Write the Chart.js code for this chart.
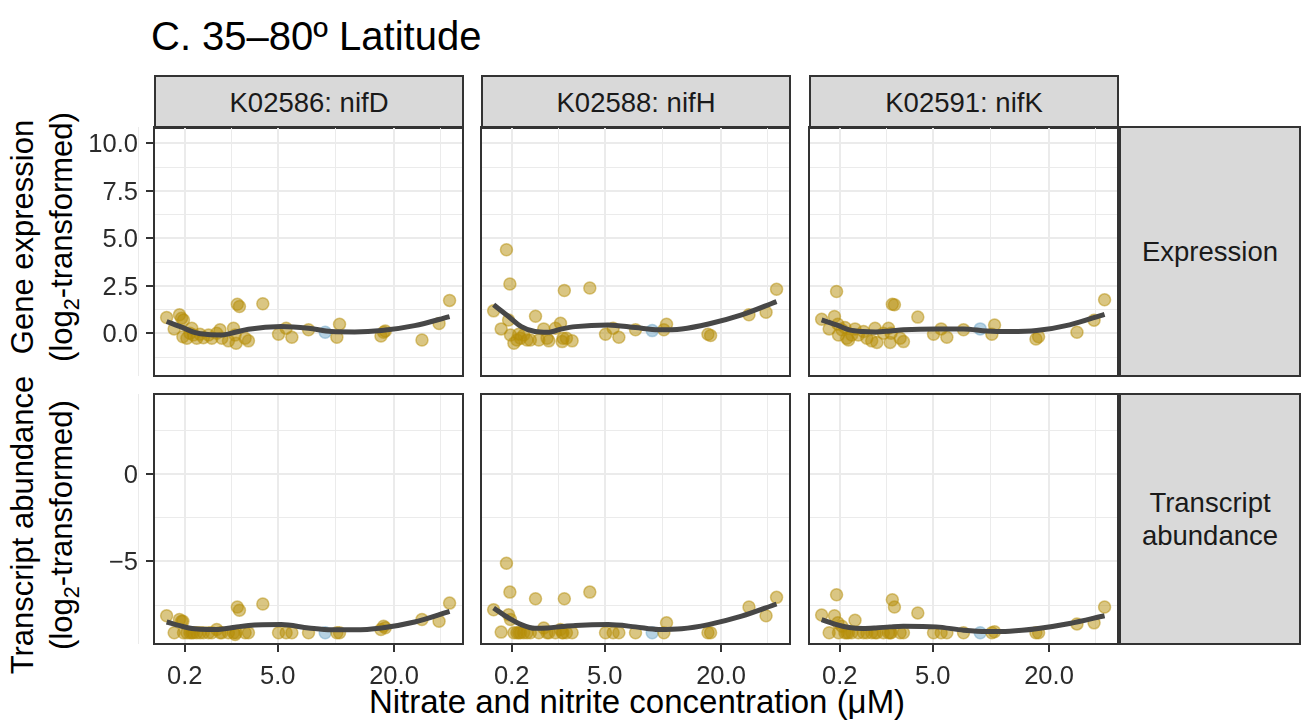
<!DOCTYPE html>
<html lang="en">
<head>
  <meta charset="UTF-8">
  <title>nif genes vs nitrate, 35–80º latitude</title>
  <script src="https://cdn.jsdelivr.net/npm/chart.js"></script>
  <style>
    body { margin: 0; background: #fff; font-family: "Liberation Sans", Arial, Helvetica, sans-serif; }
    #fig { position: relative; width: 1302px; height: 720px; overflow: hidden; }
    #fig canvas { position: absolute; }
    .strip {
      position: absolute; box-sizing: border-box;
      background: #d9d9d9; border: 2px solid #333;
      display: flex; align-items: center; justify-content: center; text-align: center;
      font-size: 27.5px; line-height: 1.2; color: #1a1a1a;
    }
    .ytitle {
      position: absolute; width: 340px; height: 78px; line-height: 39px;
      font-size: 31px; text-align: center; white-space: nowrap; color: #000;
      transform: rotate(-90deg);
    }
    .ytitle sub { font-size: 0.7em; line-height: 0; vertical-align: -0.3em; }
  </style>
</head>
<body>
  <div id="fig">
    <div style="position:absolute; left:151px; top:16px; font-size:40px; line-height:40px; color:#000;">C. 35–80º Latitude</div>

    <div class="strip" style="left:154px; top:75px; width:310px; height:54px;">K02586: nifD</div>
    <div class="strip" style="left:481px; top:75px; width:310px; height:54px;">K02588: nifH</div>
    <div class="strip" style="left:809px; top:75px; width:310px; height:54px;">K02591: nifK</div>

    <div class="strip" style="left:1119px; top:126px; width:182px; height:251px;">Expression</div>
    <div class="strip" style="left:1119px; top:393px; width:182px; height:252px;">Transcript<br>abundance</div>

    <div class="ytitle" style="left:-128px; top:198px;">Gene expression<br>(log<sub>2</sub>-transformed)</div>
    <div class="ytitle" style="left:-128px; top:486px;">Transcript abundance<br>(log<sub>2</sub>-transformed)</div>

    <div style="position:absolute; left:317px; width:640px; top:685px; text-align:center; font-size:33px; line-height:33px; color:#000;">Nitrate and nitrite concentration (μM)</div>
  </div>

  <script>
    // nitrate + nitrite (uM) of each sample, shared by all panels
    const nitrate = [0.01, 0.06, 0.12, 0.15, 0.17, 0.18, 0.24, 0.30, 0.34, 0.38,
                     0.46, 0.55, 0.65, 0.82, 0.94, 1.13, 1.27, 1.35, 1.66, 1.92,
                     2.01, 2.06, 2.13, 2.25, 2.59, 2.80, 3.80, 5.07, 5.75, 6.29,
                     8.00, 9.92, 11.38, 11.73, 17.82, 18.25, 18.53, 25.1, 28.5, 30.7];
    const blueSamples = [31];

    const exprNifD = [0.83, 0.23, 0.97, 0.79, -0.18, 0.70, -0.26, 0.00, 0.26, -0.09,
                      -0.26, -0.05, -0.23, -0.09, -0.26, 0.00, 0.18, -0.26, -0.40, 0.26,
                      -0.09, -0.53, 1.53, 1.41, -0.26, -0.40, 1.55, -0.05, 0.26, -0.21,
                      0.18, 0.05, -0.21, 0.48, -0.14, 0.05, 0.12, -0.35, 0.51, 1.73];
    const exprNifH = [1.18, 0.23, 4.40, 0.70, 2.59, -0.09, -0.53, -0.35, -0.05, -0.26,
                      -0.09, -0.35, -0.35, 0.90, -0.35, 0.23, -0.26, -0.40, 0.26, 0.53,
                      -0.44, -0.26, 2.25, -0.26, -0.40, null, 2.38, -0.05, 0.26, -0.21,
                      0.18, 0.14, 0.18, 0.48, -0.05, -0.12, null, 0.97, 1.11, 2.32];
    const exprNifK = [0.74, 0.23, 0.88, 2.20, 0.48, -0.09, 0.18, 0.30, -0.26, -0.35,
                      -0.09, 0.23, -0.09, 0.09, -0.26, -0.40, 0.26, -0.48, 0.00, 0.26,
                      -0.48, 0.00, 1.53, 1.50, -0.26, -0.44, 0.85, -0.05, 0.23, -0.21,
                      0.18, 0.23, -0.05, 0.44, -0.30, -0.18, null, 0.05, 0.69, 1.76];

    const abundNifD = [-8.11, -9.09, -8.33, -8.43, -8.43, -9.09, -9.09, -9.09, -9.09, -9.09,
                       -9.09, -9.09, -9.09, -9.09, -9.09, -8.90, -9.09, -9.09, -9.09, -9.09,
                       -9.19, -9.09, -7.61, -7.80, -9.09, -9.09, -7.44, -9.09, -9.09, -9.09,
                       -9.09, -9.09, -9.09, -9.09, -8.90, -8.71, -8.80, -8.33, -8.43, -7.39];
    const abundNifH = [-7.77, -9.05, -5.11, -8.05, -6.76, -8.33, -9.09, -9.09, -9.09, -9.09,
                       -9.09, -9.09, -9.09, -7.14, -9.09, -8.81, -9.09, -9.09, -9.09, -8.90,
                       -9.09, -9.09, -7.14, -9.09, -9.09, null, -6.76, -9.09, -9.09, -9.09,
                       -9.09, -9.09, -9.09, -8.52, -9.09, -9.09, null, -7.61, -8.11, -7.06];
    const abundNifK = [-8.07, -9.09, -8.11, -6.91, -8.52, -9.09, -8.71, -9.09, -9.09, -9.09,
                       -9.09, -8.37, -9.09, -9.09, -9.09, -9.09, -9.09, -9.09, -9.09, -9.09,
                       -9.09, -9.09, -7.20, -7.61, -9.09, -9.09, -7.95, -9.09, -9.09, -9.09,
                       -9.09, -9.09, -9.09, -9.03, -9.09, -9.09, null, -8.58, -8.52, -7.61];

    // smoothed fit at these concentrations
    const fitNitrate   = [0.01, 0.15, 0.4, 0.8, 1.3, 2.0, 2.8, 5.3, 8.0, 10.7, 13.8, 17.9, 23.7, 30.7];
    const fitExprNifD  = [0.62, 0.32, 0.05, -0.07, -0.09, 0.05, 0.21, 0.35, 0.26, 0.09, 0.07, 0.14, 0.40, 0.88];
    const fitExprNifH  = [1.50, 0.88, 0.35, 0.09, 0.05, 0.23, 0.35, 0.44, 0.30, 0.18, 0.23, 0.49, 0.97, 1.67];
    const fitExprNifK  = [0.70, 0.44, 0.18, 0.09, 0.07, 0.12, 0.18, 0.23, 0.23, 0.12, 0.09, 0.14, 0.44, 1.00];
    const fitAbundNifD = [-8.47, -8.71, -8.86, -8.90, -8.88, -8.77, -8.67, -8.62, -8.81, -8.92, -8.92, -8.81, -8.47, -7.86];
    const fitAbundNifH = [-7.67, -8.24, -8.62, -8.83, -8.81, -8.73, -8.67, -8.62, -8.75, -8.90, -8.86, -8.62, -8.14, -7.44];
    const fitAbundNifK = [-8.33, -8.62, -8.79, -8.84, -8.81, -8.75, -8.71, -8.75, -8.94, -9.02, -9.00, -8.86, -8.56, -8.11];

    // axis breaks and limits
    const xBreaks = [0.2, 5.0, 20.0];
    const yBreaksExpr = [0, 2.5, 5, 7.5, 10];
    const yBreaksAbund = [-5, 0];
    const xLimits = [-0.143, 5.799];          // sqrt scale
    const yLimitsExpr = [-2.25, 10.86];
    const yLimitsAbund = [-9.73, 4.58];

    const panels = [
      [exprNifD, fitExprNifD, 0, 0], [exprNifH, fitExprNifH, 0, 1], [exprNifK, fitExprNifK, 0, 2],
      [abundNifD, fitAbundNifD, 1, 0], [abundNifH, fitAbundNifH, 1, 1], [abundNifK, fitAbundNifK, 1, 2]
    ];

    const PANEL_X = [154, 481, 809], PANEL_W = 309;
    const PANEL_Y = [127, 394], PANEL_H = [249, 250];
    const AX_L = 74, AX_B = 76, M = 3;

    const GOLD = 'rgba(182,142,8,0.5)';
    const BLUE = 'rgba(110,165,200,0.5)';

    Chart.defaults.font.family = "'Liberation Sans', Arial, Helvetica, sans-serif";
    Chart.defaults.animation = false;

    // ggplot style: minor lines halfway between breaks (in transformed space)
    function withMinor(major, fmt) {
      const ticks = major.map(v => ({ value: v, text: fmt(v) }));
      for (let i = 0; i < major.length - 1; i++) {
        ticks.push({ value: (major[i] + major[i + 1]) / 2, minor: true });
      }
      const step = major[1] - major[0];
      ticks.push({ value: major[0] - step / 2, minor: true });
      ticks.push({ value: major[major.length - 1] + step / 2, minor: true });
      return ticks.sort((a, b) => a.value - b.value);
    }

    const panelBox = {
      id: 'panelBox',
      afterDraw(chart) {
        const a = chart.chartArea, ctx = chart.ctx;
        ctx.save();
        ctx.strokeStyle = '#333';
        ctx.lineWidth = 2;
        ctx.strokeRect(a.left, a.top, a.right - a.left, a.bottom - a.top);
        ctx.restore();
      }
    };

    const gridOpts = show => ({
      color: '#ebebeb',
      lineWidth: ctx => (ctx.tick && ctx.tick.minor) ? 1 : 2,
      drawTicks: show,
      tickLength: 8,
      tickWidth: 2,
      tickColor: ctx => (ctx.tick && ctx.tick.minor) ? 'rgba(0,0,0,0)' : '#333'
    });

    const fig = document.getElementById('fig');

    panels.forEach(([ys, fitYs, r, c]) => {
      const padL = c === 0 ? AX_L : M;
      const padB = r === 1 ? AX_B : M;
      const cv = document.createElement('canvas');
      cv.width = PANEL_W + padL + M;
      cv.height = PANEL_H[r] + M + padB;
      cv.style.left = (PANEL_X[c] - padL) + 'px';
      cv.style.top = (PANEL_Y[r] - M) + 'px';
      fig.appendChild(cv);

      const pts = [], colors = [];
      nitrate.forEach((n, i) => {
        if (ys[i] === null) return;
        pts.push({ x: Math.sqrt(n), y: ys[i] });
        colors.push(blueSamples.includes(i) ? BLUE : GOLD);
      });
      const fit = fitNitrate.map((n, i) => ({ x: Math.sqrt(n), y: fitYs[i] }));

      const yMajor = r === 0 ? yBreaksExpr : yBreaksAbund;
      const yFmt = r === 0 ? (v => v.toFixed(1)) : (v => v < 0 ? '\u2212' + Math.abs(v) : String(v));
      const yLim = r === 0 ? yLimitsExpr : yLimitsAbund;

      new Chart(cv, {
        type: 'scatter',
        data: {
          datasets: [
            {
              data: fit, showLine: true, pointRadius: 0, borderColor: '#474747',
              borderWidth: 5, cubicInterpolationMode: 'monotone', fill: false, order: 0
            },
            {
              data: pts, pointRadius: 6, borderWidth: 1.5,
              backgroundColor: colors, borderColor: colors, order: 1
            }
          ]
        },
        options: {
          responsive: false,
          events: [],
          layout: {
            autoPadding: false,
            padding: { left: c === 0 ? 0 : M, right: M, top: M, bottom: r === 1 ? 0 : M }
          },
          plugins: { legend: { display: false }, tooltip: { enabled: false } },
          scales: {
            x: {
              type: 'linear', min: xLimits[0], max: xLimits[1],
              afterBuildTicks: s => { s.ticks = withMinor(xBreaks.map(Math.sqrt), v => (v * v).toFixed(1)); },
              afterFit: s => { s.height = r === 1 ? AX_B : 0; s.paddingLeft = 0; s.paddingRight = 0; },
              border: { display: false },
              grid: gridOpts(r === 1),
              ticks: {
                display: r === 1, autoSkip: false, maxRotation: 0, padding: 10,
                color: '#2b2b2b', font: { size: 25.5 },
                callback: (v, i, t) => t[i].minor ? '' : t[i].text
              }
            },
            y: {
              type: 'linear', min: yLim[0], max: yLim[1],
              afterBuildTicks: s => { s.ticks = withMinor(yMajor, yFmt); },
              afterFit: s => { s.width = c === 0 ? AX_L : 0; s.paddingTop = 0; s.paddingBottom = 0; },
              border: { display: false },
              grid: gridOpts(c === 0),
              ticks: {
                display: c === 0, autoSkip: false, padding: 8, labelOffset: 2,
                color: '#2b2b2b', font: { size: 25.5 },
                callback: (v, i, t) => t[i].minor ? '' : t[i].text
              }
            }
          }
        },
        plugins: [panelBox]
      });
    });
  </script>
</body>
</html>
